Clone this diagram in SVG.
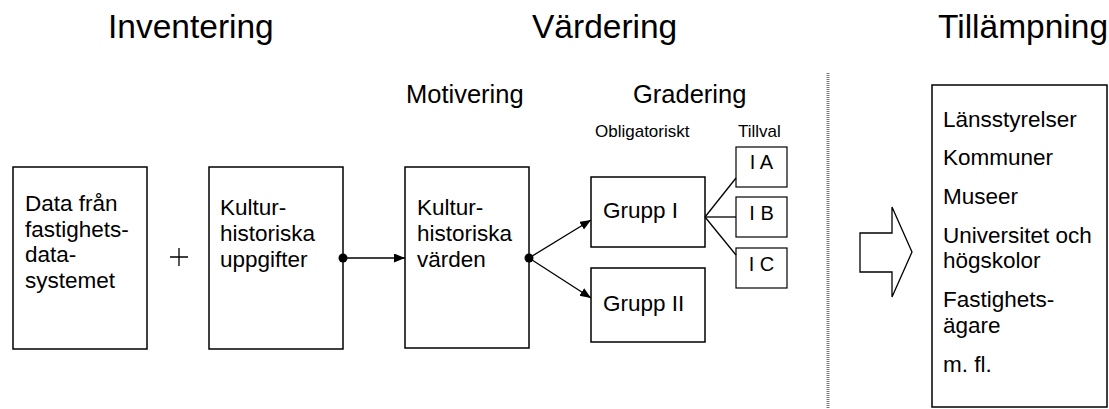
<svg xmlns="http://www.w3.org/2000/svg" width="1109" height="409" viewBox="0 0 1109 409">
<style>
text{font-family:"Liberation Sans",Arial,sans-serif;fill:#000}
.h{font-size:33.5px}
.s{font-size:25.5px}
.b{font-size:22.5px}
.t{font-size:17px}
.g{font-size:20px}
.box{fill:#fff;stroke:#000;stroke-width:1.5}
.sm{fill:#fff;stroke:#000;stroke-width:1.2}
.ln{fill:none;stroke:#000;stroke-width:1.3}
</style>
<defs>
<marker id="ah" markerUnits="userSpaceOnUse" markerWidth="12" markerHeight="10" refX="11" refY="4.5" orient="auto">
<path d="M0,0 L11,4.5 L0,9 z" fill="#000"/>
</marker>
</defs>
<rect width="1109" height="409" fill="#fff"/>
<g id="headings">
<text class="h" x="108" y="38">Inventering</text>
<text class="h" x="532" y="38">Värdering</text>
<text class="h" x="938" y="38">Tillämpning</text>
<text class="s" x="406" y="103">Motivering</text>
<text class="s" x="633" y="103">Gradering</text>
<text class="t" x="595" y="137">Obligatoriskt</text>
<text class="t" x="738" y="137">Tillval</text>
</g>
<g id="n-data">
<rect class="box" x="13" y="167" width="134" height="182"/>
<text class="b" x="25" y="211">Data från</text>
<text class="b" x="25" y="236.5">fastighets-</text>
<text class="b" x="25" y="262">data-</text>
<text class="b" x="25" y="287.5">systemet</text>
</g>
<g id="plus">
<path class="ln" d="M170,257 H188 M179,248 V266" stroke-width="1"/>
</g>
<g id="n-uppgifter">
<rect class="box" x="209" y="167" width="134" height="182"/>
<text class="b" x="220" y="215">Kultur-</text>
<text class="b" x="220" y="241">historiska</text>
<text class="b" x="220" y="267">uppgifter</text>
</g>
<g id="n-varden">
<rect class="box" x="405" y="167" width="124" height="181"/>
<text class="b" x="417" y="215">Kultur-</text>
<text class="b" x="417" y="241">historiska</text>
<text class="b" x="417" y="267">värden</text>
</g>
<g id="n-grupp1">
<rect class="box" x="591" y="177" width="114" height="70"/>
<text class="b" x="603" y="218">Grupp I</text>
</g>
<g id="n-grupp2">
<rect class="box" x="591" y="268" width="114" height="74"/>
<text class="b" x="603" y="311">Grupp II</text>
</g>
<g id="n-ia">
<rect class="sm" x="736" y="147" width="51" height="40"/>
<text class="g" x="761.5" y="169" text-anchor="middle">I A</text>
</g>
<g id="n-ib">
<rect class="sm" x="736" y="197" width="51" height="40"/>
<text class="g" x="761.5" y="220" text-anchor="middle">I B</text>
</g>
<g id="n-ic">
<rect class="sm" x="736" y="248" width="51" height="40"/>
<text class="g" x="761.5" y="271" text-anchor="middle">I C</text>
</g>
<g id="n-tillampning">
<rect class="box" x="932" y="85" width="175" height="322"/>
<text class="b" x="943" y="127">Länsstyrelser</text>
<text class="b" x="943" y="165">Kommuner</text>
<text class="b" x="943" y="204">Museer</text>
<text class="b" x="943" y="243">Universitet och</text>
<text class="b" x="943" y="268">högskolor</text>
<text class="b" x="943" y="307">Fastighets-</text>
<text class="b" x="943" y="333">ägare</text>
<text class="b" x="943" y="372">m. fl.</text>
</g>
<g id="divider">
<line x1="828" y1="73" x2="828" y2="409" stroke="#777" stroke-width="3" stroke-dasharray="1 1"/>
</g>
<g id="big-arrow">
<polygon points="860,233 892,233 892,207 912,252 892,297 892,272 860,272" fill="#fff" stroke="#000" stroke-width="1.3"/>
</g>
<g id="connectors">
<circle cx="343" cy="258" r="4.5" fill="#000"/>
<line class="ln" x1="343" y1="258" x2="405" y2="258" marker-end="url(#ah)"/>
<circle cx="529" cy="258" r="4.5" fill="#000"/>
<line class="ln" x1="529" y1="258" x2="591" y2="220" marker-end="url(#ah)"/>
<line class="ln" x1="529" y1="258" x2="591" y2="298" marker-end="url(#ah)"/>
<line class="ln" x1="705" y1="217" x2="736" y2="178"/>
<line class="ln" x1="705" y1="217" x2="736" y2="217"/>
<line class="ln" x1="705" y1="217" x2="736" y2="255"/>
</g>
</svg>
